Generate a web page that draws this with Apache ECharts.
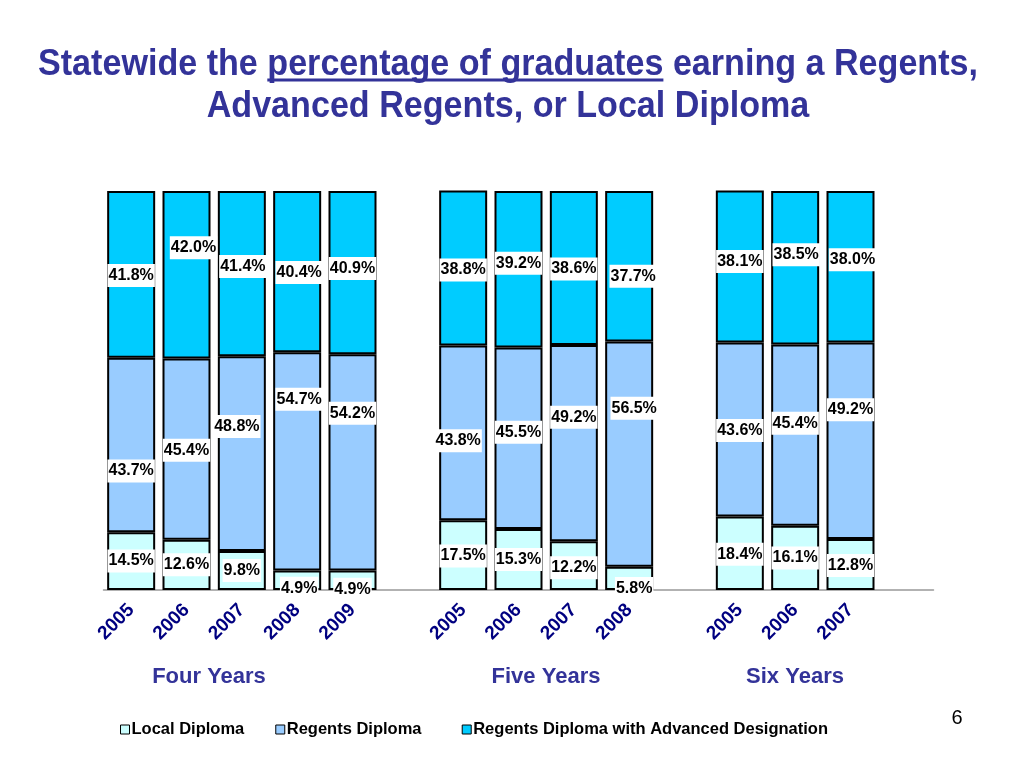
<!DOCTYPE html>
<html>
<head>
<meta charset="utf-8">
<title>Graduates by diploma type</title>
<script src="https://cdn.jsdelivr.net/npm/echarts@6/dist/echarts.min.js"></script>
<style>
    html, body { margin: 0; padding: 0; background: #fff; }
    #chart { width: 1024px; height: 768px; }
</style>
</head>
<body>
<div id="chart"></div>
<script>
// 类别（空字符串 = 组与组之间的空位）
const years = ['2005', '2006', '2007', '2008', '2009', '',
               '2005', '2006', '2007', '2008', '',
               '2005', '2006', '2007', ''];
const groupNames = ['Four Years', 'Five Years', 'Six Years'];
const seriesNames = ['Local Diploma', 'Regents Diploma', 'Regents Diploma with Advanced Designation'];

// 百分比数据
const localDiploma    = [14.5, 12.6, 9.8, 4.9, 4.9, null, 17.5, 15.3, 12.2, 5.8, null, 18.4, 16.1, 12.8, null];
const regentsDiploma  = [43.7, 45.4, 48.8, 54.7, 54.2, null, 43.8, 45.5, 49.2, 56.5, null, 43.6, 45.4, 49.2, null];
const advancedDiploma = [41.8, 42.0, 41.4, 40.4, 40.9, null, 38.8, 39.2, 38.6, 37.7, null, 38.1, 38.5, 38.0, null];

document.addEventListener('DOMContentLoaded', function() {
    const chart = echarts.init(document.getElementById('chart'));
    const fontName = 'Liberation Sans, Arial, sans-serif';

    // 标题：Arial 粗体横向压缩，模拟原图字体
    const titleLine1a = 'Statewide the ';
    const titleLine1b = 'percentage of graduates';
    const titleLine1c = ' earning a Regents,';
    const titleLine2 = 'Advanced Regents, or Local Diploma';
    const titleFont = 'bold 36px ' + fontName;
    const ctx = document.createElement('canvas').getContext('2d');
    ctx.font = titleFont;
    const wA = ctx.measureText(titleLine1a).width;
    const wB = ctx.measureText(titleLine1b).width;
    const wAll = ctx.measureText(titleLine1a + titleLine1b + titleLine1c).width;
    const titleScale = 940 / wAll;
    const ulStart = -wAll / 2 + wA;

    // 标签位置微调 [dx, dy]（与原图一致）
    const nudges = [
        [[0,0],[0,0],[0,0],[2,8],[0,9],null,[0,1],[0,0],[0,2],[5,10],null,[0,1],[0,0],[0,1],null],
        [[0,26],[0,1],[-5,-27],[2,-62],[0,-49],null,[-5,8],[0,-6],[0,-26],[5,-46],null,[0,1],[0,-12],[0,-31],null],
        [[0,1],[7,-27],[1,-7],[2,1],[0,-4],null,[0,2],[0,-6],[0,1],[4,10],null,[0,-5],[1,-13],[2,-7],null]
    ];
    const colors = ['#ccffff', '#99ccff', '#00ccff'];
    const values = [localDiploma, regentsDiploma, advancedDiploma];

    const series = seriesNames.map(function(name, s) {
        return {
            name: name,
            type: 'bar',
            stack: 'total',
            barWidth: 48,
            itemStyle: { color: colors[s], borderColor: '#000', borderWidth: 2 },
            label: {
                show: true,
                position: 'inside',
                formatter: function(p) { return p.value.toFixed(1) + '%'; },
                color: '#000',
                fontFamily: fontName,
                fontWeight: 'bold',
                fontSize: 16,
                backgroundColor: '#fff',
                padding: [4, 1, 3, 1]
            },
            data: values[s].map(function(v, i) {
                if (v === null) return null;
                return { value: v, label: { offset: nudges[s][i] } };
            })
        };
    });

    const groupLabel = function(text, x) {
        return {
            type: 'text', x: x, y: 677,
            style: { text: text, fill: '#333399', font: 'bold 22px ' + fontName, align: 'center', verticalAlign: 'middle' }
        };
    };

    const option = {
        animation: false,
        legend: {
            data: seriesNames,
            bottom: 25,
            left: 115,
            icon: 'rect',
            itemWidth: 9,
            itemHeight: 9,
            itemGap: 31,
            // 第二项后面留出更宽的间距
            formatter: function(name) {
                return name === seriesNames[1] ? name + '  ' : name;
            },
            textStyle: {
                color: '#000',
                fontFamily: fontName,
                fontWeight: 'bold',
                fontSize: 16.5,
                padding: [0, 0, 0, -3]
            },
            itemStyle: { borderColor: '#000', borderWidth: 1 }
        },
        grid: { left: 103.5, right: 90.5, top: 191, bottom: 178 },
        xAxis: {
            type: 'category',
            data: years,
            axisLine: { lineStyle: { color: '#999', width: 1.5 } },
            axisTick: { show: false },
            axisLabel: {
                interval: 0,
                rotate: 45,
                margin: 17,
                color: '#000080',
                fontFamily: fontName,
                fontWeight: 'bold',
                fontSize: 19
            }
        },
        yAxis: {
            type: 'value',
            min: 0,
            max: 100,
            show: false
        },
        graphic: [
            {
                type: 'group', x: 508, y: 0, scaleX: titleScale,
                children: [
                    { type: 'text', x: 0, y: 65, style: { text: titleLine1a + titleLine1b + titleLine1c, fill: '#333399', font: titleFont, align: 'center', verticalAlign: 'middle' } },
                    { type: 'text', x: 0, y: 107, style: { text: titleLine2, fill: '#333399', font: titleFont, align: 'center', verticalAlign: 'middle' } },
                    { type: 'rect', shape: { x: ulStart, y: 78.5, width: wB, height: 3 }, style: { fill: '#333399' } }
                ]
            },
            groupLabel(groupNames[0], 209),
            groupLabel(groupNames[1], 546),
            groupLabel(groupNames[2], 795),
            { type: 'text', x: 957, y: 718, style: { text: '6', fill: '#000', font: '20px ' + fontName, align: 'center', verticalAlign: 'middle' } }
        ],
        series: series
    };
    chart.setOption(option);

    window.addEventListener('resize', function() {
        chart.resize();
    });
});
</script>
</body>
</html>
